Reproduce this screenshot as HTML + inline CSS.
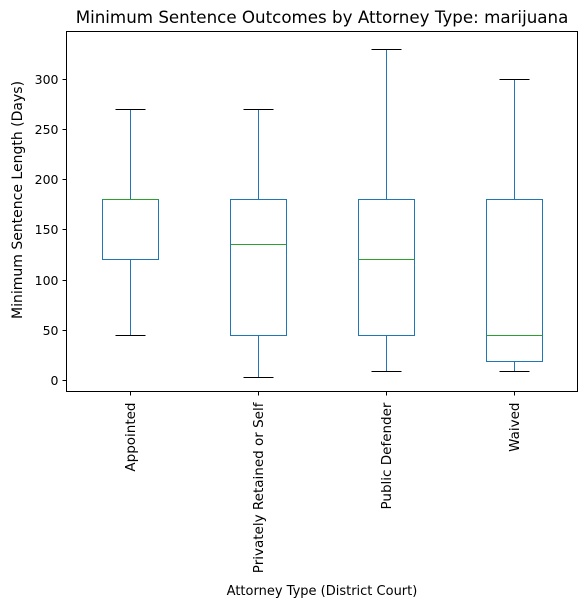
<!DOCTYPE html>
<html><head><meta charset="utf-8"><style>body{margin:0;background:#fff}svg{display:block;font-family:"DejaVu Sans","Liberation Sans",sans-serif}</style></head>
<body>
<svg id="chart" width="587" height="608"></svg>
<script>
const categories=["Appointed","Privately Retained or Self","Public Defender","Waived"];
const whiskerLow=[45,3,9,9];
const q1Values=[120,45,45,19];
const medianValues=[180,135,120,45];
const q3Values=[180,180,180,180];
const whiskerHigh=[270,270,330,300];
const yTicks=[0,50,100,150,200,250,300];

const NS="http://www.w3.org/2000/svg";
const svg=document.getElementById('chart');
const L=66.5,R=577.5,T=31.5,B=391.5;
const y=v=>Math.round(380-(v)*(380-78.7)/300)+0.5;
const x=i=>Math.round(L+(i+0.5)*(R-L)/categories.length)+0.5;
function mk(tag,attrs,parent){const e=document.createElementNS(NS,tag);for(const k in attrs)e.setAttribute(k,attrs[k]);(parent||svg).appendChild(e);return e;}

let t=mk('text',{x:(L+R)/2,y:23,'text-anchor':'middle','font-size':'16.7',fill:'#000'});


t.textContent='Minimum Sentence Outcomes by Attorney Type: marijuana';

yTicks.forEach(v=>{
  const g=mk('g',{});
  
  
  mk('line',{x1:L-4,x2:L,y1:y(v),y2:y(v),stroke:'#000','stroke-width':1},g);
  const tx=mk('text',{x:L-8,y:y(v)+4.5,'text-anchor':'end','font-size':'12.5',fill:'#000'},g);
  tx.textContent=v;
});
const yl=mk('text',{transform:`translate(22,200) rotate(-90)`,'text-anchor':'middle','font-size':'14',fill:'#000'});


yl.textContent='Minimum Sentence Length (Days)';

const hw=28,cw=15;
categories.forEach((c,i)=>{
  const cx=x(i);
  const g=mk('g',{fill:'none'});
  
  
  mk('line',{x1:cx,x2:cx,y1:y(whiskerLow[i]),y2:y(q1Values[i]),stroke:'#1f77b4'},g);
  mk('line',{x1:cx,x2:cx,y1:y(q3Values[i]),y2:y(whiskerHigh[i]),stroke:'#1f77b4'},g);
  mk('line',{x1:cx-cw,x2:cx+cw,y1:y(whiskerLow[i]),y2:y(whiskerLow[i]),stroke:'#000'},g);
  mk('line',{x1:cx-cw,x2:cx+cw,y1:y(whiskerHigh[i]),y2:y(whiskerHigh[i]),stroke:'#000'},g);
  mk('rect',{x:cx-hw,y:y(q3Values[i]),width:2*hw,height:y(q1Values[i])-y(q3Values[i]),stroke:'#1f77b4'},g);
  mk('line',{x1:cx-hw,x2:cx+hw,y1:y(medianValues[i]),y2:y(medianValues[i]),stroke:'#2ca02c'},g);
  const tg=mk('g',{});
  
  
  mk('line',{x1:cx,x2:cx,y1:B,y2:B+4,stroke:'#000'},tg);
  const tx=mk('text',{transform:`translate(${cx+4.5},${B+11}) rotate(-90)`,'text-anchor':'end','font-size':'13.5',fill:'#000'},tg);
  tx.textContent=c;
});
const fr=mk('rect',{x:L,y:T,width:R-L,height:B-T,fill:'none',stroke:'#000','stroke-width':1});


const xl=mk('text',{x:(L+R)/2,y:595,'text-anchor':'middle','font-size':'13',fill:'#000'});


xl.textContent='Attorney Type (District Court)';
</script>
</body></html>
